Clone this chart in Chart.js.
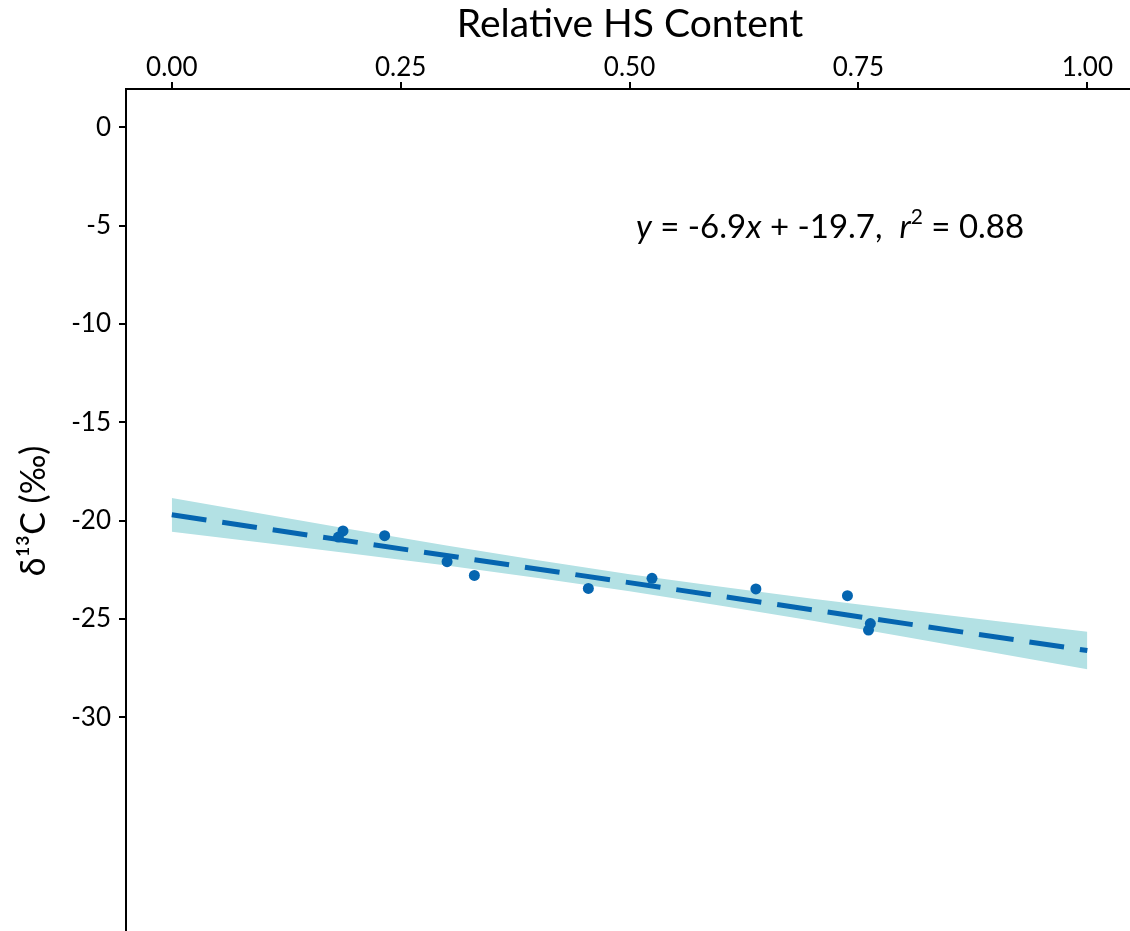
<!DOCTYPE html>
<html>
<head>
<meta charset="utf-8">
<title>Relative HS Content vs d13C</title>
<script src="https://cdn.jsdelivr.net/npm/chart.js@4/dist/chart.umd.min.js"></script>
<style>
    html, body {
        margin: 0;
        padding: 0;
        background: #ffffff;
        overflow: hidden;
    }

    #wrap {
        position: relative;
        width: 1130px;
        height: 931px;
    }
</style>
</head>
<body>
<div id="wrap">
    <canvas id="hsChart"></canvas>
</div>

<script>

/*
============================================================
Data
============================================================
*/

// measured samples
const hsContent = [0.187, 0.182, 0.2325, 0.3007, 0.3305, 0.455, 0.5245, 0.638, 0.738, 0.763, 0.761];

const delta13C = [-20.52, -20.83, -20.76, -22.08, -22.78, -23.44, -22.93, -23.47, -23.81, -25.23, -25.56];

// fitted line end points
const fitX = [0, 1];

const fitY = [-19.7, -26.6];

// confidence band
const bandX = [0, 0.1, 0.2, 0.3, 0.4, 0.5, 0.6, 0.7, 0.8, 0.9, 1.0];

const bandUpper = [-18.84, -19.66, -20.47, -21.26, -22.01, -22.72, -23.36, -23.97, -24.54, -25.10, -25.65];

const bandLower = [-20.56, -21.12, -21.69, -22.28, -22.91, -23.58, -24.32, -25.09, -25.90, -26.72, -27.55];

// axis ticks
const xTicks = [0, 0.25, 0.5, 0.75, 1];

const yTicks = [0, -5, -10, -15, -20, -25, -30];

// labels
const xTitle = "Relative HS Content";

const yTitle = "\u03B4\u00B9\u00B3C (\u2030)";

/*
============================================================
Style
============================================================
*/

const FONT = "Lato, 'Open Sans', sans-serif";

const BLUE = "#0565b0";

const BAND = "#b3e1e4";

const pairs = (xs, ys) => xs.map((x, i) => ({ x: x, y: ys[i] }));

/*
============================================================
Text Plugin (titles + equation)
============================================================
*/

const textPlugin = {

    id: "hsText",

    afterDraw(chart) {

        const ctx = chart.ctx;

        ctx.save();

        ctx.fillStyle = "#000";

        // top title
        ctx.font = "39px " + FONT;
        ctx.textAlign = "center";
        ctx.textBaseline = "alphabetic";
        ctx.fillText(xTitle, 630, 37);

        // y title
        ctx.save();
        ctx.translate(45, 511);
        ctx.rotate(-Math.PI / 2);
        ctx.font = "34px " + FONT;
        ctx.textAlign = "center";
        ctx.fillText(yTitle, 0, 0);
        ctx.restore();

        // equation, pieces drawn left to right
        const parts = [
            ["y", "italic 33px " + FONT, 0],
            [" = -6.9", "33px " + FONT, 0],
            ["x", "italic 33px " + FONT, 0],
            [" + -19.7,  ", "33px " + FONT, 0],
            ["r", "italic 33px " + FONT, 0],
            ["2", "21px " + FONT, -14],
            [" = 0.88", "33px " + FONT, 0]
        ];

        ctx.textAlign = "left";

        let x = 636;

        parts.forEach(p => {

            ctx.font = p[1];

            ctx.fillText(p[0], x, 238 + p[2]);

            x += ctx.measureText(p[0]).width;

        });

        ctx.restore();

    }

};

/*
============================================================
Chart
============================================================
*/

new Chart(

    document.getElementById("hsChart"),

    {

        type: "scatter",

        data: {

            datasets: [

                {
                    label: "upper",
                    type: "line",
                    data: pairs(bandX, bandUpper),
                    borderWidth: 0,
                    pointRadius: 0,
                    backgroundColor: BAND,
                    fill: "+1",
                    order: 4
                },

                {
                    label: "lower",
                    type: "line",
                    data: pairs(bandX, bandLower),
                    borderWidth: 0,
                    pointRadius: 0,
                    fill: false,
                    order: 4
                },

                {
                    label: "fit",
                    type: "line",
                    data: pairs(fitX, fitY),
                    borderColor: BLUE,
                    borderWidth: 5,
                    borderDash: [35, 16],
                    pointRadius: 0,
                    fill: false,
                    order: 2
                },

                {
                    label: "samples",
                    data: pairs(hsContent, delta13C),
                    backgroundColor: BLUE,
                    borderWidth: 0,
                    pointRadius: 5.5,
                    order: 1
                }

            ]

        },

        options: {

            responsive: true,

            maintainAspectRatio: false,

            animation: false,

            layout: {
                autoPadding: false,
                padding: 0
            },

            plugins: {
                legend: { display: false },
                tooltip: { enabled: false }
            },

            scales: {

                x: {
                    type: "linear",
                    position: "top",
                    min: -0.05,
                    max: 1.0466,
                    afterFit(scale) {
                        scale.height = 89;
                        scale.paddingLeft = 0;
                        scale.paddingRight = 0;
                    },
                    afterBuildTicks(scale) {
                        scale.ticks = xTicks.map(v => ({ value: v }));
                    },
                    grid: {
                        drawOnChartArea: false,
                        drawTicks: true,
                        tickLength: 7,
                        color: "#000",
                        lineWidth: 2
                    },
                    border: {
                        color: "#000",
                        width: 2
                    },
                    ticks: {
                        color: "#000",
                        padding: -1,
                        maxRotation: 0,
                        font: { family: FONT, size: 26 },
                        callback: v => v.toFixed(2)
                    }
                },

                y: {
                    type: "linear",
                    min: -40.86,
                    max: 1.95,
                    afterFit(scale) {
                        scale.width = 126;
                        scale.paddingTop = 0;
                        scale.paddingBottom = 0;
                    },
                    afterBuildTicks(scale) {
                        scale.ticks = yTicks.map(v => ({ value: v }));
                    },
                    grid: {
                        drawOnChartArea: false,
                        drawTicks: true,
                        tickLength: 7,
                        color: "#000",
                        lineWidth: 2
                    },
                    border: {
                        color: "#000",
                        width: 2
                    },
                    ticks: {
                        color: "#000",
                        padding: 8,
                        font: { family: FONT, size: 26 },
                        callback: v => String(v)
                    }
                }

            }

        },

        plugins: [textPlugin]

    }

);

</script>
</body>
</html>
